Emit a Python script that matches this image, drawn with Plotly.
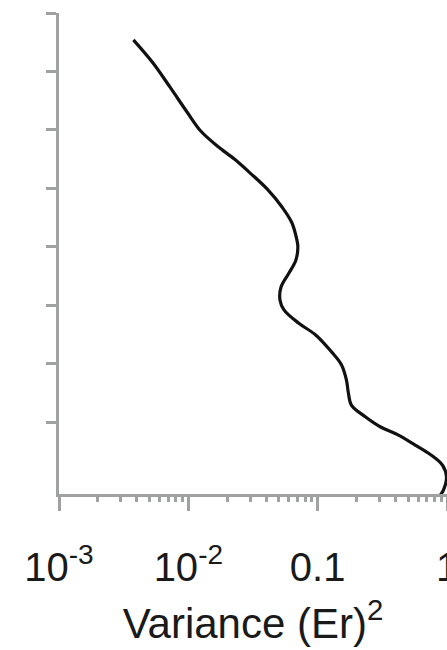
import plotly.graph_objects as go

# Variance profile
variance = [0.00376, 0.00535, 0.00722, 0.00974, 0.01247, 0.01683, 0.0227, 0.0301,
            0.0406, 0.0530, 0.0632, 0.0690, 0.0703, 0.0678, 0.0600, 0.0521,
            0.0511, 0.0549, 0.0715, 0.0965, 0.128, 0.1527, 0.1668, 0.1727,
            0.1822, 0.2333, 0.3093, 0.4175, 0.5636, 0.7474, 0.9236, 0.991,
            0.940, 0.876]
level = [7.54, 7.14, 6.73, 6.31, 5.98, 5.72, 5.50, 5.26,
         4.99, 4.68, 4.41, 4.12, 4.00, 3.77, 3.55, 3.31,
         3.09, 2.92, 2.69, 2.49, 2.20, 1.98, 1.72, 1.50,
         1.29, 1.09, 0.91, 0.78, 0.61, 0.44, 0.26, 0.06,
         -0.16, -0.27]

x_major = [0.001, 0.01, 0.1, 1]
x_major_text = ["10<sup>-3</sup>", "10<sup>-2</sup>", "0.1", "1"]
x_minor = [m * d for d in [0.001, 0.01, 0.1] for m in range(2, 10)]
y_ticks = [1, 2, 3, 4, 5, 6, 7, 8]

AX = "#a0a2a2"
FONT = "Liberation Sans, Arial, Helvetica, sans-serif"

fig = go.Figure()
fig.add_trace(go.Scatter(x=variance, y=level, mode="lines",
                         line=dict(color="#111111", width=3.2, shape="spline", smoothing=1.0),
                         showlegend=False, hoverinfo="skip"))
# invisible trace to create minor-tick overlay axis
fig.add_trace(go.Scatter(x=[0.01], y=[1], xaxis="x2", mode="markers",
                         marker=dict(opacity=0), showlegend=False, hoverinfo="skip"))

fig.update_layout(
    width=447, height=650,
    margin=dict(l=59, r=0, t=13, b=156),
    paper_bgcolor="white", plot_bgcolor="white",
    font=dict(family=FONT, color="#1a1a1a"),
    xaxis=dict(type="log", range=[-3, 0], showgrid=False, zeroline=False,
               showline=True, linecolor=AX, linewidth=3,
               ticks="outside", tickvals=x_major, ticktext=x_major_text,
               ticklen=14, tickwidth=3, tickcolor=AX,
               tickfont=dict(size=40, family=FONT, color="#1a1a1a"),
               ticklabelstandoff=22, ticklabeloverflow="allow",
               title=dict(text="Variance (Er)<sup>2</sup>",
                          font=dict(size=42, family=FONT, color="#1a1a1a"),
                          standoff=21),
               automargin=False),
    xaxis2=dict(type="log", range=[-3, 0], overlaying="x", anchor="y", side="bottom",
                showgrid=False, zeroline=False, showline=False,
                ticks="outside", tickvals=x_minor, ticklen=7, tickwidth=3,
                tickcolor=AX, showticklabels=False, automargin=False),
    yaxis=dict(range=[-0.232, 8], showgrid=False, zeroline=False,
               showline=True, linecolor=AX, linewidth=3,
               ticks="outside", tickvals=y_ticks, ticklen=10, tickwidth=3,
               tickcolor=AX, showticklabels=False, automargin=False),
)

fig.write_html("out.html")
